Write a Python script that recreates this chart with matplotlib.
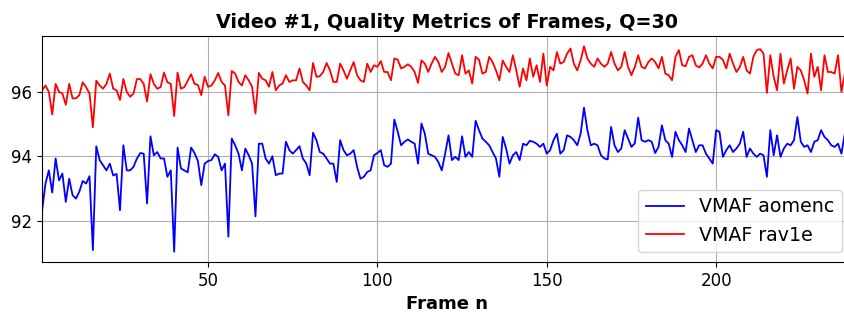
import numpy as np
import matplotlib
matplotlib.use("Agg")
import matplotlib.pyplot as plt

# per-frame VMAF scores, frames 1..240
vmaf_aomenc = [
    92.30, 93.15, 93.56, 92.87, 93.93, 93.25, 93.46, 92.58, 93.30, 92.79,
    92.68, 92.90, 93.23, 93.15, 93.38, 91.08, 94.31, 93.88, 93.72, 93.56,
    93.77, 93.40, 93.45, 92.32, 94.34, 93.56, 93.56, 93.67, 93.93, 94.10,
    94.08, 92.53, 94.62, 94.03, 94.13, 93.93, 93.93, 93.36, 93.56, 91.03,
    94.27, 93.62, 93.56, 93.50, 94.27, 94.10, 93.85, 93.10, 93.77, 93.85,
    93.88, 94.06, 93.98, 93.56, 93.77, 91.50, 94.55, 94.34, 94.08, 93.56,
    94.24, 94.03, 93.77, 92.13, 94.39, 94.39, 93.93, 93.77, 94.00, 93.41,
    93.46, 93.46, 94.45, 94.19, 94.08, 94.19, 94.31, 93.93, 93.77, 93.41,
    94.73, 94.50, 94.13, 94.08, 93.93, 93.77, 93.77, 93.20, 94.50, 94.19,
    94.03, 94.08, 94.19, 93.67, 93.30, 93.36, 93.51, 93.56, 94.03, 94.10,
    94.19, 93.72, 93.67, 93.77, 95.14, 94.76, 94.34, 94.45, 94.52, 94.45,
    94.39, 93.77, 95.02, 94.70, 94.08, 94.03, 93.98, 93.82, 93.56, 94.08,
    94.65, 93.88, 93.98, 93.88, 94.62, 93.98, 94.13, 93.98, 95.10, 94.81,
    94.55, 94.45, 94.34, 94.13, 93.93, 93.36, 94.60, 94.24, 93.77, 94.03,
    94.13, 93.88, 94.39, 94.34, 94.48, 94.45, 94.39, 94.29, 94.39, 94.08,
    94.19, 94.50, 94.70, 94.08, 94.19, 94.65, 94.60, 94.50, 94.34, 94.70,
    95.51, 94.81, 94.34, 94.39, 94.34, 94.03, 93.93, 93.90, 94.91, 94.34,
    94.13, 94.24, 94.81, 94.55, 94.29, 94.40, 95.20, 94.50, 94.45, 94.50,
    94.45, 94.10, 94.29, 94.96, 94.50, 94.39, 93.98, 94.76, 94.50, 94.34,
    94.13, 94.86, 94.50, 94.13, 94.34, 94.34, 94.08, 93.93, 93.77, 94.81,
    94.76, 93.98, 94.19, 94.34, 94.13, 94.24, 94.39, 94.76, 93.98, 94.24,
    94.08, 93.98, 94.08, 94.03, 93.36, 94.81, 94.03, 94.65, 93.98, 94.24,
    94.39, 94.34, 94.50, 95.22, 94.45, 94.29, 94.34, 94.13, 94.45, 94.50,
    94.81, 94.60, 94.50, 94.34, 94.29, 94.39, 94.08, 94.70, 94.50, 94.40,
]
vmaf_rav1e = [
    96.05, 96.20, 96.00, 95.30, 96.25, 96.00, 95.95, 95.60, 96.25, 95.80,
    95.80, 95.90, 96.30, 96.15, 95.95, 94.90, 96.35, 96.20, 96.10, 96.25,
    96.57, 96.10, 96.05, 95.75, 96.40, 96.00, 95.85, 95.95, 96.40, 96.40,
    96.25, 95.70, 96.55, 96.25, 96.10, 96.15, 96.60, 96.30, 96.25, 95.25,
    96.60, 96.10, 96.15, 96.35, 96.55, 96.25, 96.22, 95.90, 96.47, 96.16,
    96.20, 96.36, 96.59, 96.31, 96.20, 95.27, 96.65, 96.57, 96.31, 96.20,
    96.52, 96.36, 96.16, 95.33, 96.59, 96.41, 96.36, 96.16, 96.62, 96.05,
    96.20, 96.26, 96.52, 96.31, 96.36, 96.36, 96.73, 96.31, 96.20, 96.05,
    96.90, 96.47, 96.49, 96.62, 96.90, 96.67, 96.31, 96.31, 96.88, 96.67,
    96.41, 96.67, 96.93, 96.52, 96.36, 96.31, 96.88, 96.62, 96.83, 96.78,
    96.96, 96.62, 96.62, 96.36, 97.04, 97.00, 96.73, 96.78, 96.86, 96.78,
    96.62, 96.28, 96.98, 96.88, 96.62, 96.88, 97.09, 96.93, 96.62, 96.78,
    97.21, 96.88, 96.57, 96.52, 97.14, 96.57, 96.67, 96.26, 97.09, 97.00,
    96.57, 96.62, 97.09, 96.93, 96.67, 96.36, 96.98, 96.78, 96.62, 97.14,
    96.67, 96.16, 96.73, 96.36, 97.04, 96.47, 96.83, 96.31, 97.19, 96.20,
    96.78, 96.67, 97.24, 96.88, 96.93, 97.19, 97.35, 96.88, 96.67, 96.98,
    97.42, 97.04, 96.88, 96.78, 97.04, 96.88, 96.78, 96.88, 97.24, 96.88,
    96.67, 96.78, 97.24, 96.78, 96.52, 96.78, 97.14, 96.78, 96.73, 96.93,
    97.04, 96.93, 96.73, 97.09, 96.57, 96.52, 96.36, 97.09, 97.30, 96.83,
    96.80, 97.09, 97.14, 96.83, 96.76, 96.88, 97.14, 96.88, 96.73, 97.09,
    97.09, 97.00, 96.73, 97.19, 96.88, 96.62, 96.78, 97.09, 96.67, 96.57,
    97.09, 97.30, 97.33, 97.19, 95.97, 97.14, 96.47, 96.05, 97.19, 96.26,
    96.67, 97.04, 96.10, 96.78, 96.67, 96.36, 95.95, 97.19, 96.47, 96.78,
    96.05, 97.14, 96.62, 96.62, 96.57, 97.14, 96.00, 96.57, 96.70, 96.50,
]
frames = np.arange(1, len(vmaf_aomenc) + 1)

fig = plt.figure(figsize=(8.45, 3.21), dpi=100)
ax = fig.add_axes([0.0498, 0.1838, 0.958, 0.7041])

ax.plot(frames, vmaf_aomenc, color="b", linewidth=1.3, label="VMAF aomenc")
ax.plot(frames, vmaf_rav1e, color="r", linewidth=1.3, label="VMAF rav1e")

ax.set_xlim(1, 240)
ax.margins(y=0.05)
ax.set_xticks([50, 100, 150, 200])
ax.set_yticks([92, 94, 96])
ax.tick_params(labelsize=12)
ax.grid(True)

ax.set_title("Video #1, Quality Metrics of Frames, Q=30", fontsize=13.8, fontweight="bold")
ax.set_xlabel("Frame n", fontsize=13, fontweight="bold")
ax.legend(loc="lower right", fontsize=13.7)

fig.savefig("out.png", dpi=100)
